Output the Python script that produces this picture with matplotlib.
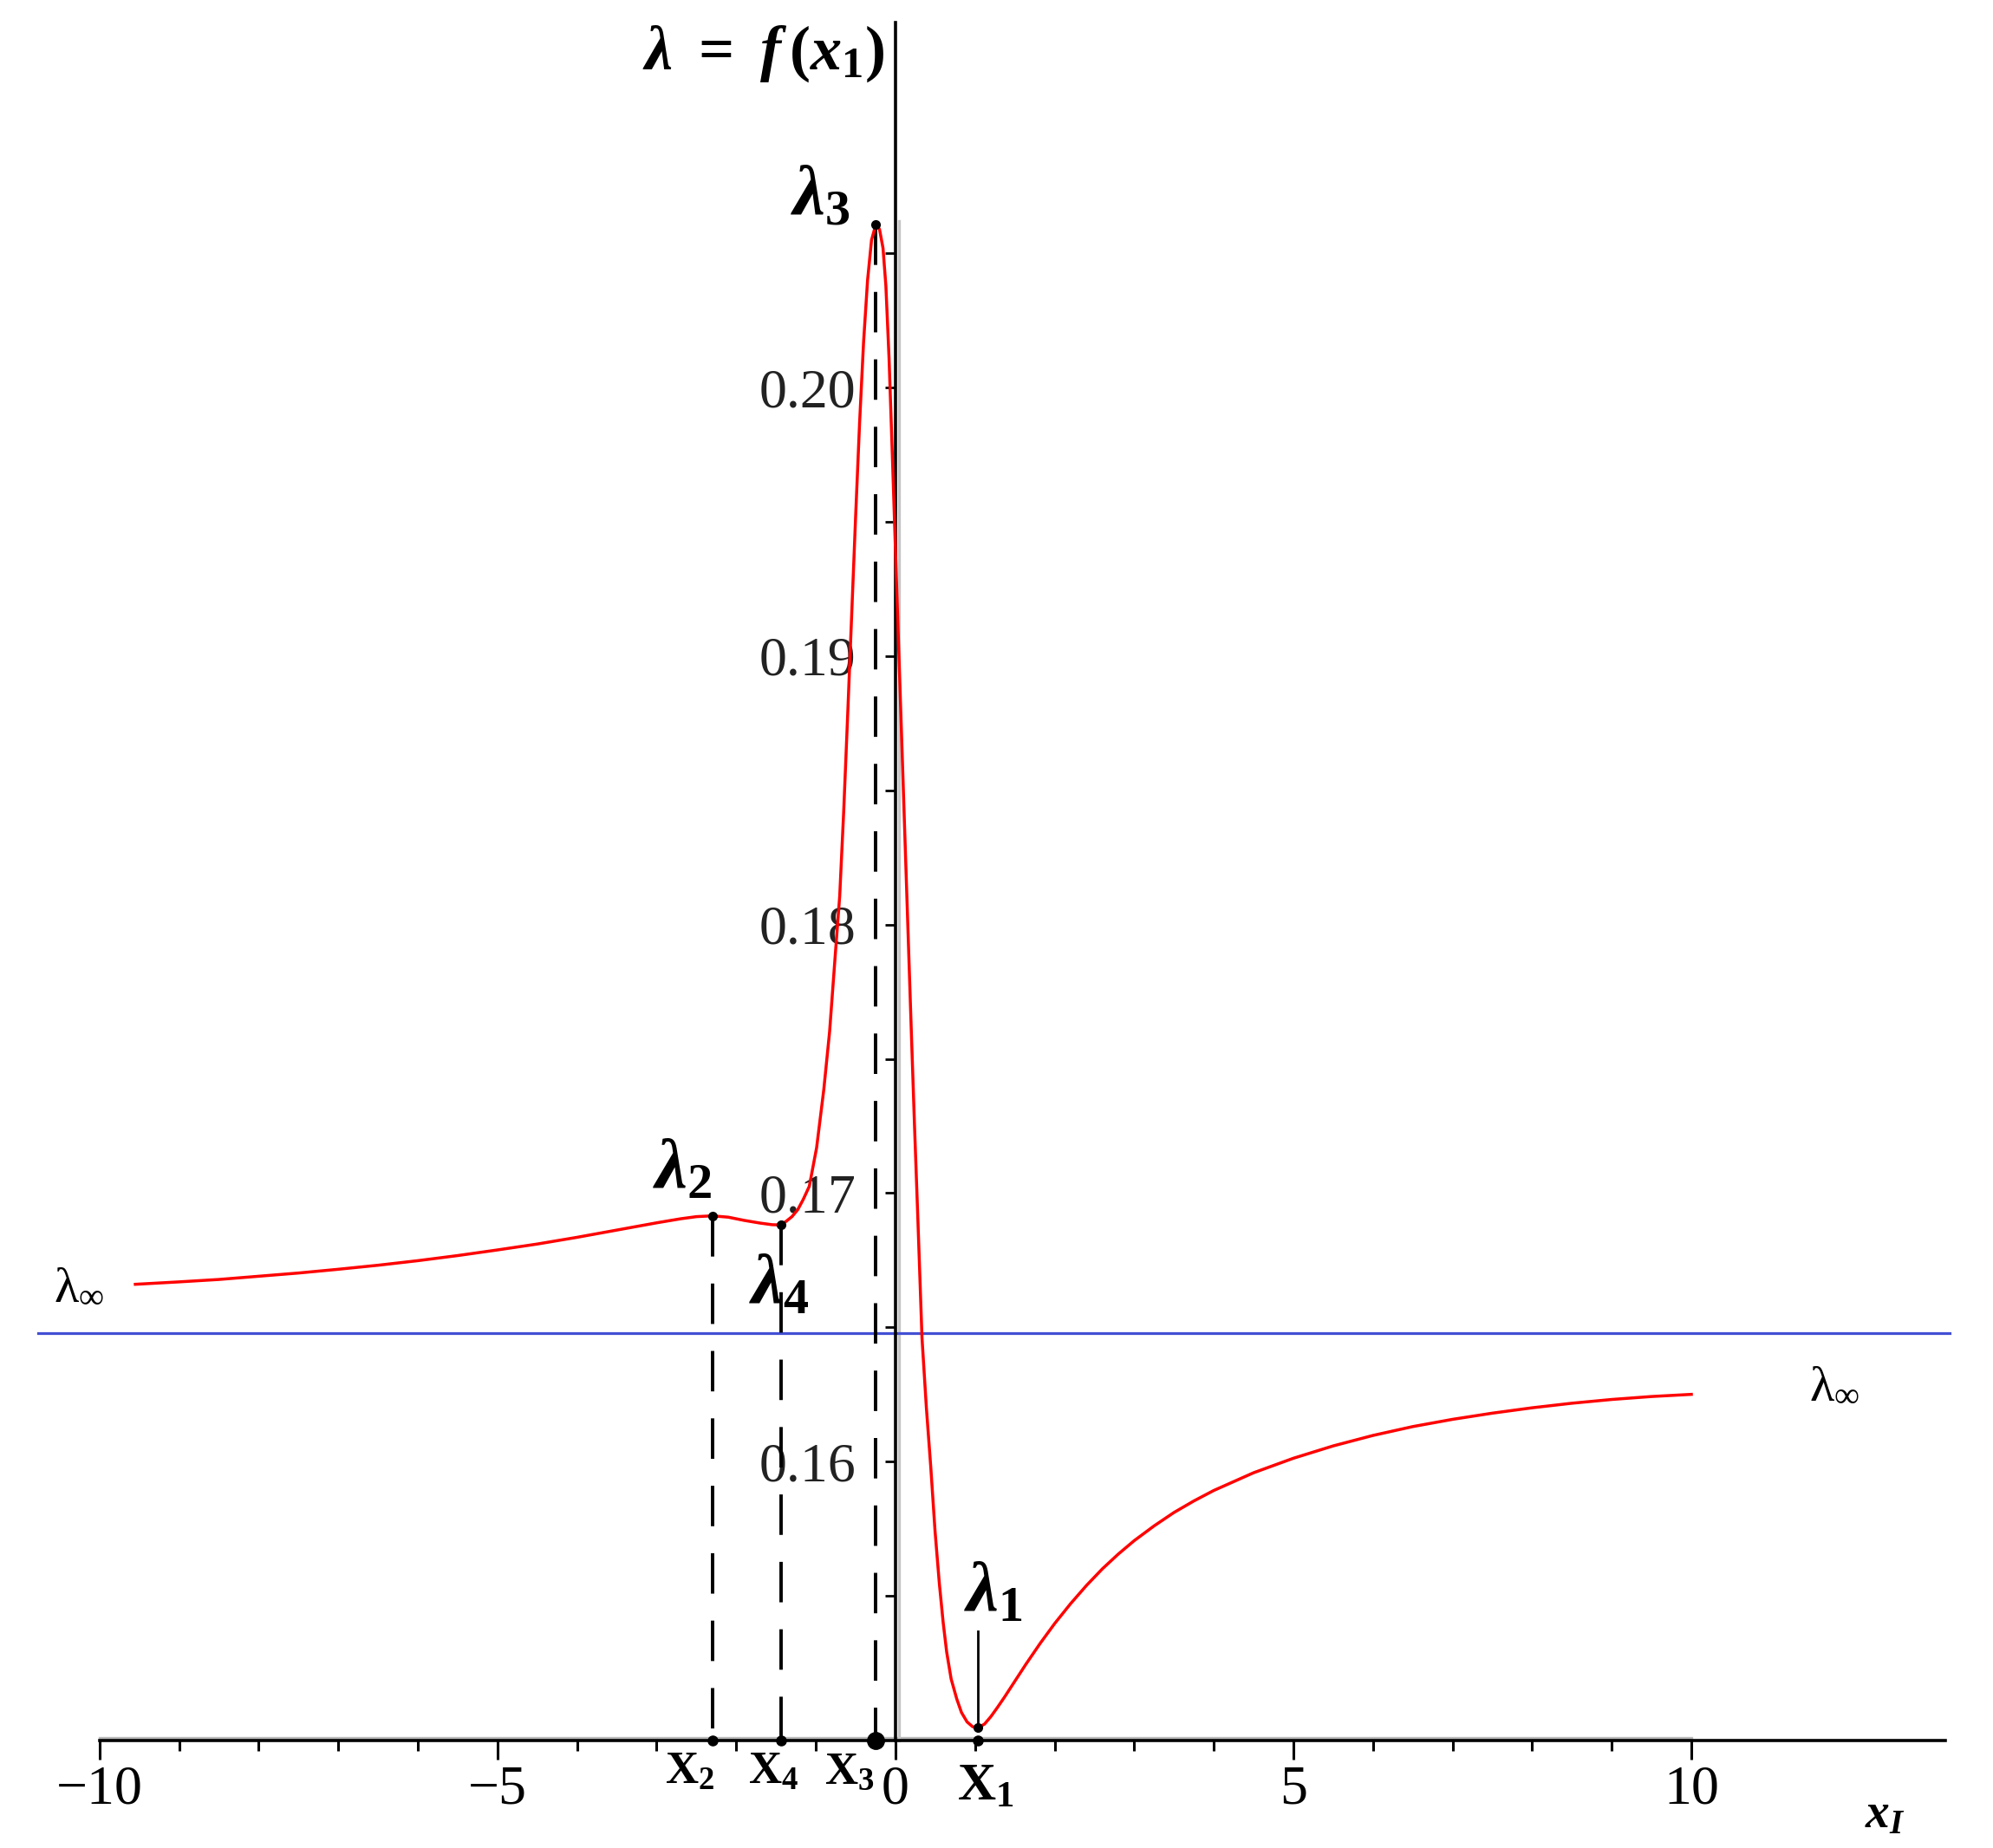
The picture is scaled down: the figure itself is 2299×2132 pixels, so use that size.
import matplotlib
matplotlib.use("Agg")
import matplotlib.pyplot as plt

# curve lambda = f(x1)
x_curve = [-9.55, -9.0, -8.5, -8.0, -7.5, -7.0, -6.5, -6.0, -5.5, -5.0, -4.5, -4.0,
           -3.5, -3.0, -2.7, -2.5, -2.30, -2.1, -1.9, -1.7, -1.55, -1.437, -1.371,
           -1.30, -1.227, -1.16, -1.082, -0.99, -0.90, -0.827, -0.755, -0.70, -0.65,
           -0.60, -0.55, -0.50, -0.45, -0.40, -0.35, -0.30, -0.246, -0.20, -0.156,
           -0.12, -0.08, -0.04, 0.0, 0.04, 0.08, 0.12, 0.16, 0.20, 0.24, 0.28, 0.334,
           0.389, 0.444, 0.498, 0.552, 0.60, 0.644, 0.70, 0.77, 0.83, 0.90, 0.97,
           1.04, 1.12, 1.20, 1.28, 1.37, 1.46, 1.64, 1.82, 2.0, 2.2, 2.4, 2.6, 2.8,
           3.0, 3.25, 3.5, 3.75, 4.0, 4.5, 5.0, 5.5, 6.0, 6.5, 7.0, 7.5, 8.0, 8.5,
           9.0, 9.5, 10.0]
y_curve = [0.16660, 0.16669, 0.16678, 0.16690, 0.16702, 0.16716, 0.16731, 0.16748,
           0.16767, 0.16788, 0.16810, 0.16835, 0.16862, 0.16889, 0.16904, 0.16912,
           0.16915, 0.16910, 0.16898, 0.16888, 0.16882, 0.16881, 0.16895, 0.16912,
           0.16938, 0.16975, 0.17025, 0.17169, 0.17385, 0.17601, 0.17890, 0.18106,
           0.18420, 0.18780, 0.19150, 0.19520, 0.19870, 0.20170, 0.20400, 0.20550,
           0.20608, 0.20590, 0.20520, 0.20380, 0.20110, 0.19760, 0.19400, 0.19040,
           0.18680, 0.18320, 0.17960, 0.17600, 0.17250, 0.16920, 0.16460, 0.16200,
           0.15980, 0.15740, 0.15545, 0.15400, 0.15290, 0.15190, 0.15116, 0.15065,
           0.15030, 0.15012, 0.15008, 0.15022, 0.15050, 0.15083, 0.15122, 0.15163,
           0.15245, 0.15323, 0.15396, 0.15470, 0.15538, 0.15600, 0.15655, 0.15705,
           0.15760, 0.15810, 0.15853, 0.15892, 0.15958, 0.16012, 0.16058, 0.16097,
           0.16130, 0.16157, 0.16180, 0.16200, 0.16217, 0.16231, 0.16242, 0.16250]

lambda_inf = 0.16477

# critical points
crit_names = ["2", "4", "3", "1"]
crit_x = [-2.30, -1.437, -0.246, 1.04]
crit_y = [0.16915, 0.16881, 0.20608, 0.15008]

xticks = [-10, -5, 0, 5, 10]
xtick_labels = ["\u221210", "\u22125", "0", "5", "10"]
yticks = [0.16, 0.17, 0.18, 0.19, 0.20]
ytick_labels = ["0.16", "0.17", "0.18", "0.19", "0.20"]

plt.rcParams["font.family"] = "Liberation Serif"
plt.rcParams["mathtext.fontset"] = "custom"
plt.rcParams["mathtext.rm"] = "Liberation Serif:bold"
plt.rcParams["mathtext.it"] = "Liberation Serif:italic:bold"
plt.rcParams["mathtext.bf"] = "Liberation Serif:bold"
plt.rcParams["mathtext.sf"] = "Liberation Serif"

fig = plt.figure(figsize=(22.99, 21.32), dpi=100)
ax = fig.add_axes([0, 0, 1, 1])
ax.set_xlim(-11.25, 13.79)
ax.set_ylim(0.145602, 0.21444)

y_axis_bottom = 0.149596
ax.spines["top"].set_visible(False)
ax.spines["right"].set_visible(False)
ax.spines["left"].set_position(("data", 0))
ax.spines["bottom"].set_position(("data", y_axis_bottom))
ax.spines["left"].set_bounds(y_axis_bottom, 0.2136)
ax.spines["bottom"].set_bounds(-10, 13.19)
for s in ["left", "bottom"]:
    ax.spines[s].set_linewidth(2.6)
    ax.spines[s].set_zorder(3)

# grey frame shadow of the plotting range
ax.plot([-10, 10], [y_axis_bottom + 0.00012] * 2, color="#b9b9b9", lw=2.4, zorder=2)
ax.plot([0.04, 0.04], [y_axis_bottom, 0.2062], color="#c4c4c4", lw=2.4, zorder=2)

ax.set_xticks(xticks)
ax.set_xticklabels(xtick_labels)
ax.set_xticks(range(-10, 11), minor=True)
ax.set_yticks(yticks)
ax.set_yticklabels(ytick_labels)
ax.set_yticks([0.155, 0.165, 0.175, 0.185, 0.195, 0.205], minor=True)
ax.tick_params(axis="x", which="major", length=16, width=2.2, pad=4, labelsize=46)
ax.tick_params(axis="x", which="minor", length=8.5, width=2.2)
ax.tick_params(axis="y", which="both", length=9, width=2.0, pad=24, labelsize=46,
               labelcolor="#222222")

# asymptote and curve
ax.plot([-10.77, 13.24], [lambda_inf, lambda_inf], color="#4350d4", lw=2.3, zorder=2)
ax.plot(x_curve, y_curve, color="#ff0000", lw=2.5, zorder=4)

# dashed drop lines for x2, x4, x3 and solid one for x1
for i in range(3):
    ax.plot([crit_x[i], crit_x[i]], [crit_y[i], y_axis_bottom], color="black", lw=2.8,
            linestyle=(0, (12, 8)), zorder=3)
ax.plot([crit_x[3], crit_x[3]], [crit_y[3], 0.15368], color="black", lw=2.0, zorder=3)

ax.plot(crit_x, crit_y, "o", color="black", ms=7, zorder=5)
ax.plot([crit_x[0], crit_x[1], crit_x[3]], [y_axis_bottom] * 3, "o", color="black",
        ms=8, zorder=5)
ax.plot([crit_x[2]], [y_axis_bottom], "o", color="black", ms=14, zorder=5)

# labels
ax.text(-1.662, 0.21244, r"$\lambda\ =\ f\,(x_1)$", fontsize=52, ha="center", va="center")
lam_pos = {"2": (-2.674, 0.17079), "4": (-1.455, 0.16653),
           "3": (-0.943, 0.20708), "1": (1.234, 0.15506)}
for name in crit_names:
    lx, ly = lam_pos[name]
    ax.text(lx, ly, r"$\lambda_{%s}$" % name, fontsize=60, ha="center", va="center")

x_lab_pos = {"2": (-2.58, 0.148411, 38), "4": (-1.538, 0.148411, 38),
             "3": (-0.580, 0.148411, 38), "1": (1.130, 0.147872, 44)}
for name in crit_names:
    lx, ly, fs = x_lab_pos[name]
    ax.text(lx, ly, r"$\mathrm{X}_{%s}$" % name, fontsize=fs, ha="center", va="center")

ax.text(-10.257, 0.16653, r"$\mathsf{\lambda}_{\mathsf{\infty}}$", fontsize=42,
        ha="center", va="center")
ax.text(11.802, 0.16285, r"$\mathsf{\lambda}_{\mathsf{\infty}}$", fontsize=42,
        ha="center", va="center")
ax.text(12.43, 0.14681, r"$x_I$", fontsize=40, ha="center", va="center")

fig.savefig("out.png", dpi=100)
